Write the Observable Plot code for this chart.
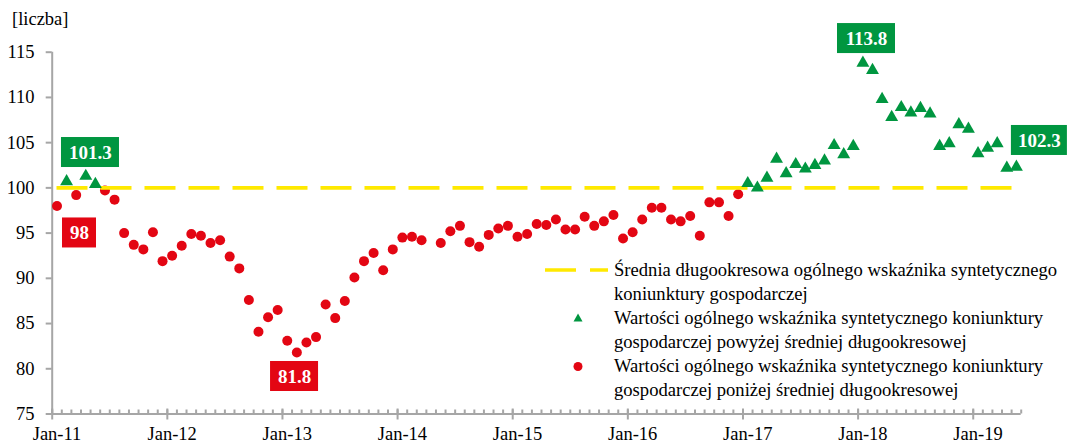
<!DOCTYPE html>
<html>
<head>
<meta charset="utf-8">
<script src="https://cdn.jsdelivr.net/npm/d3@7"></script>
<script src="https://cdn.jsdelivr.net/npm/@observablehq/plot@0.6"></script>
<style>
  html, body { margin: 0; padding: 0; background: #fff; }
  #wrap { position: relative; width: 1067px; height: 446px; font-family: "Liberation Serif", "DejaVu Serif", serif; color: #000; }
  #unit { position: absolute; left: 12px; top: 7px; font-size: 18.5px; line-height: 24px; }
  #legend { position: absolute; left: 545px; top: 258px; font-size: 18.6px; line-height: 24px; }
  .row { display: flex; align-items: flex-start; }
  .key { width: 69px; height: 24px; flex: none; }
  .txt { white-space: nowrap; }
</style>
</head>
<body>
<div id="wrap">
  <div id="chart"></div>
  <div id="unit">[liczba]</div>
  <div id="legend"></div>
</div>
<script>
// ---- data ----
const values = [
  98.0, 100.7, 99.2, 101.3, 100.4, 99.7, 98.7, 95.0, 93.7, 93.2, 95.1, 91.9,   // 2011
  92.5, 93.6, 94.9, 94.7, 93.9, 94.2, 92.4, 91.1, 87.6, 84.1, 85.7, 86.5,      // 2012
  83.1, 81.8, 82.9, 83.5, 87.1, 85.6, 87.5, 90.1, 91.9, 92.8, 90.9, 93.2,      // 2013
  94.5, 94.6, 94.2, null, 93.9, 95.2, 95.8, 94.0, 93.5, 94.8, 95.5, 95.8,      // 2014
  94.6, 94.9, 96.0, 95.9, 96.5, 95.4, 95.4, 96.8, 95.8, 96.3, 97.0, 94.4,      // 2015
  95.1, 96.5, 97.8, 97.8, 96.5, 96.3, 96.9, 94.7, 98.4, 98.4, 96.9, 99.3,      // 2016
  100.5, 100.0, 101.1, 103.2, 101.6, 102.6, 102.1, 102.5, 103.0, 104.7, 103.7, 104.6, // 2017
  113.8, 113.0, 109.8, 107.8, 108.9, 108.3, 108.8, 108.2, 104.6, 104.9, 107.0, 106.5, // 2018
  103.8, 104.4, 104.9, 102.2, 102.3                                             // 2019
];
const longTermMean = 100;
const yTicks = [75, 80, 85, 90, 95, 100, 105, 110, 115];
const xTickLabels = ["Jan-11", "Jan-12", "Jan-13", "Jan-14", "Jan-15", "Jan-16", "Jan-17", "Jan-18", "Jan-19"];
const labelledMonths = [0, 3, 25, 84, 100];
const legendLabels = [
  "Średnia długookresowa ogólnego wskaźnika syntetycznego<br>koniunktury gospodarczej",
  "Wartości ogólnego wskaźnika syntetycznego koniunktury<br>gospodarczej powyżej średniej długookresowej",
  "Wartości ogólnego wskaźnika syntetycznego koniunktury<br>gospodarczej poniżej średniej długookresowej"
];

// ---- styles ----
const RED = "#E30613", GREEN = "#009640", YELLOW = "#FFE900", GRAY = "#A6A6A6";
const FONT = '"Liberation Serif", "DejaVu Serif", serif';
const FS = 18.5;

const nMonths = values.length;
const points = values.map((v, i) => ({i, v, x: i + 0.5})).filter(d => d.v != null);
const above = points.filter(d => d.v >= longTermMean);
const below = points.filter(d => d.v < longTermMean);

// label box placement (pixel offsets / widths), keyed by month index
const labelPlacement = {
  0:   {dx: 22.5, dy: 27,  w: 34},
  3:   {dx: 4.7,  dy: -23.6, w: 58},
  25:  {dx: -2.3, dy: 24,  w: 48},
  84:  {dx: 3.6,  dy: -24.5, w: 58},
  100: {dx: 23,   dy: -26.6, w: 56}
};

const labelMarks = labelledMonths.flatMap(m => {
  const d = points.find(p => p.i === m);
  const p = labelPlacement[m];
  const col = d.v >= longTermMean ? GREEN : RED;
  return [
    Plot.rect([d], {x1: "x", x2: "x", y1: "v", y2: "v",
      insetLeft: -p.w / 2, insetRight: -p.w / 2, insetTop: -15, insetBottom: -15,
      dx: p.dx, dy: p.dy, fill: col}),
    Plot.text([d], {x: "x", y: "v", text: d => `${d.v}`, dx: p.dx, dy: p.dy,
      fill: "white", fontWeight: "bold", fontSize: 19, fontFamily: FONT})
  ];
});

const yearStarts = d3.range(0, nMonths + 1, 12);
const chart = Plot.plot({
  width: 1067,
  height: 446,
  marginLeft: 51.7,
  marginRight: 46.3,
  marginTop: 51.7,
  marginBottom: 32.5,
  style: {fontFamily: FONT, fontSize: `${FS}px`, background: "white", color: "#000"},
  x: {domain: [0, nMonths]},
  y: {domain: [75, 115]},
  marks: [
    Plot.axisY({ticks: yTicks, tickSize: 6, tickPadding: 11.7, stroke: GRAY, strokeWidth: 2,
      fill: "#000", fontSize: FS, fontFamily: FONT, label: null, tickFormat: d => `${d}`}),
    Plot.axisX({ticks: d3.range(0, nMonths + 1), tickSize: 4, insetBottom: 4, text: null,
      stroke: GRAY, strokeWidth: 2, label: null}),
    Plot.axisX({ticks: yearStarts.slice(0, xTickLabels.length), tickSize: 11, insetBottom: 5, text: null,
      stroke: GRAY, strokeWidth: 2, label: null}),
    Plot.axisX({ticks: xTickLabels.map((_, k) => k * 12 + 0.5), tickSize: 0, tickPadding: 12.6,
      tickFormat: (d) => xTickLabels[Math.round((d - 0.5) / 12)], fill: "#000", fontSize: FS, fontFamily: FONT, label: null}),
    Plot.ruleY([75], {stroke: GRAY, strokeWidth: 2}),
    Plot.ruleX([0], {stroke: GRAY, strokeWidth: 2}),
    Plot.dot(below, {x: "x", y: "v", r: 5, fill: RED}),
    Plot.ruleY([longTermMean], {x1: points[0].x, x2: points[points.length - 1].x,
      stroke: YELLOW, strokeWidth: 3.6, strokeDasharray: "31 13"}),
    Plot.dot(above, {x: "x", y: "v", r: 4.8, symbol: "triangle", fill: GREEN}),
    ...labelMarks
  ]
});
document.getElementById("chart").appendChild(chart);

// ---- legend ----
const keys = [
  `<svg class="key" width="69" height="24"><line x1="0" x2="63" y1="12" y2="12" stroke="${YELLOW}" stroke-width="3.6" stroke-dasharray="31 14"/></svg>`,
  `<svg class="key" width="69" height="24"><path d="M33,7.5 L37.5,15.5 L28.5,15.5 Z" fill="${GREEN}"/></svg>`,
  `<svg class="key" width="69" height="24"><circle cx="33" cy="12.5" r="4.5" fill="${RED}"/></svg>`
];
document.getElementById("legend").innerHTML = legendLabels.map((t, k) =>
  `<div class="row">${keys[k]}<div class="txt">${t}</div></div>`).join("");
</script>
</body>
</html>
